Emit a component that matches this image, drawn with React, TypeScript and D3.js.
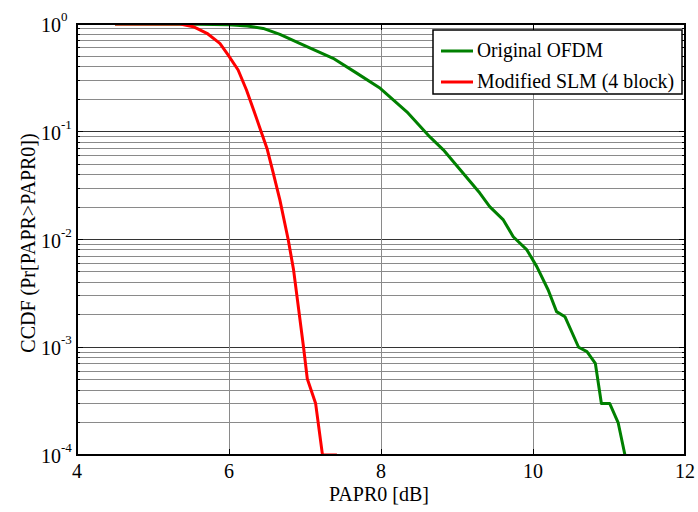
import React from 'react'
import * as d3 from 'd3'

// PAPR0 [dB] vs CCDF
const ofdmX = [4.5, 5.6, 6.0, 6.24, 6.45, 6.67, 6.93, 7.37, 7.68, 7.99, 8.34, 8.64, 8.82, 9.3, 9.43, 9.61, 9.74, 9.92, 10.05, 10.2, 10.31, 10.42, 10.6, 10.71, 10.82, 10.9, 11.01, 11.12, 11.21]
const ofdmY = [1, 0.995, 0.985, 0.96, 0.91, 0.8, 0.66, 0.48, 0.35, 0.253, 0.153, 0.09, 0.068, 0.027, 0.0202, 0.0152, 0.0106, 0.008, 0.0056, 0.0034, 0.00214, 0.00192, 0.001, 0.00091, 0.00071, 0.0003, 0.0003, 0.0002, 0.0001]

const slmX = [4.5, 5.36, 5.53, 5.71, 5.88, 5.99, 6.12, 6.23, 6.34, 6.43, 6.5, 6.58, 6.67, 6.78, 6.85, 6.98, 7.03, 7.14, 7.23, 7.42]
const slmY = [1, 1, 0.944, 0.82, 0.66, 0.515, 0.374, 0.244, 0.148, 0.097, 0.07, 0.042, 0.0232, 0.0099, 0.0052, 0.00101, 0.00051, 0.0003, 0.0001, 0.0001]

const xTicks = [4, 6, 8, 10, 12]
const yExps = [0, -1, -2, -3, -4]
const legendNames = ['Original OFDM', 'Modified SLM (4 block)']
const legendWidths = [126, 197]
const colors = ['#008000', '#ff0000']

const W = 698
const H = 512
const m = { left: 77, right: 685, top: 24, bottom: 455 }
const font = "'Liberation Serif', 'Times New Roman', 'DejaVu Serif', serif"

export default function App() {
  const x = d3.scaleLinear().domain([4, 12]).range([m.left, m.right])
  const y = d3.scaleLog().domain([1e-4, 1]).range([m.bottom, m.top])

  const line = d3.line<[number, number]>()
    .x(d => x(d[0]))
    .y(d => y(Math.max(d[1], 1e-4)))

  const series = [
    ofdmX.map((v, i) => [v, ofdmY[i]] as [number, number]),
    slmX.map((v, i) => [v, slmY[i]] as [number, number]),
  ]

  // minor values for the log grid
  const minor: number[] = []
  for (let e = -4; e < 0; e++) {
    for (let k = 2; k <= 9; k++) minor.push(k * Math.pow(10, e))
  }

  const lx = 433, ly = 30, lw = 249, lh = 64

  return (
    <svg width={W} height={H} style={{ position: 'absolute', left: 0, top: 0, background: '#fff' }}>
      <defs>
        <clipPath id="plot">
          <rect x={m.left} y={m.top} width={m.right - m.left} height={m.bottom - m.top} />
        </clipPath>
      </defs>
      <rect x={0} y={0} width={W} height={H} fill="#fff" />

      {/* grid */}
      <g shapeRendering="crispEdges">
        {minor.map((v, i) => (
          <line key={'mn' + i} x1={m.left} x2={m.right} y1={y(v)} y2={y(v)} stroke="#8a8a8a" strokeWidth={1} />
        ))}
        {yExps.slice(1, 4).map(e => (
          <line key={'mj' + e} x1={m.left} x2={m.right} y1={y(Math.pow(10, e))} y2={y(Math.pow(10, e))} stroke="#333" strokeWidth={1} />
        ))}
        {xTicks.slice(1, -1).map(t => (
          <line key={'vx' + t} x1={x(t)} x2={x(t)} y1={m.top} y2={m.bottom} stroke="#8a8a8a" strokeWidth={1} />
        ))}
      </g>

      {/* curves */}
      <g clipPath="url(#plot)">
        {series.map((s, i) => (
          <path key={i} d={line(s) || ''} fill="none" stroke={colors[i]} strokeWidth={3} strokeLinejoin="round" />
        ))}
      </g>

      {/* ticks */}
      <g stroke="#000" strokeWidth={1} shapeRendering="crispEdges">
        {xTicks.map(t => (
          <g key={'xt' + t}>
            <line x1={x(t)} x2={x(t)} y1={m.bottom} y2={m.bottom - 6} />
            <line x1={x(t)} x2={x(t)} y1={m.top} y2={m.top + 6} />
          </g>
        ))}
        {yExps.map(e => (
          <g key={'yt' + e}>
            <line x1={m.left} x2={m.left + 6} y1={y(Math.pow(10, e))} y2={y(Math.pow(10, e))} />
            <line x1={m.right} x2={m.right - 6} y1={y(Math.pow(10, e))} y2={y(Math.pow(10, e))} />
          </g>
        ))}
        {minor.map((v, i) => (
          <g key={'ym' + i}>
            <line x1={m.left} x2={m.left + 3} y1={y(v)} y2={y(v)} />
            <line x1={m.right} x2={m.right - 3} y1={y(v)} y2={y(v)} />
          </g>
        ))}
      </g>

      {/* axes box */}
      <rect x={m.left} y={m.top} width={m.right - m.left} height={m.bottom - m.top} fill="none" stroke="#000" strokeWidth={2} />

      {/* tick labels */}
      <g style={{ fontFamily: font }} fill="#000">
        {xTicks.map(t => (
          <text key={'xl' + t} x={x(t)} y={478} fontSize={20} textAnchor="middle">{t}</text>
        ))}
        {yExps.map(e => (
          <text key={'yl' + e} x={61} y={y(Math.pow(10, e)) + 8} fontSize={20} textAnchor="end">
            10
            <tspan x={61} dy={-11} fontSize={13} textAnchor="start">{e}</tspan>
          </text>
        ))}
        <text x={379} y={501} fontSize={20} textAnchor="middle">PAPR0 [dB]</text>
        <text transform="translate(35,243) rotate(-90)" fontSize={20} textAnchor="middle">
          CCDF (Pr[PAPR&gt;PAPR0])
        </text>
      </g>

      {/* legend */}
      <g style={{ fontFamily: font }}>
        <rect x={lx} y={ly} width={lw} height={lh} fill="#fff" stroke="#000" strokeWidth={1.5} />
        {legendNames.map((n, i) => (
          <g key={n}>
            <line x1={441} x2={473} y1={51 + i * 31} y2={51 + i * 31} stroke={colors[i]} strokeWidth={3} />
            <text x={477} y={57 + i * 31} fontSize={20} fill="#000" textLength={legendWidths[i]} lengthAdjust="spacingAndGlyphs">{n}</text>
          </g>
        ))}
      </g>
    </svg>
  )
}
